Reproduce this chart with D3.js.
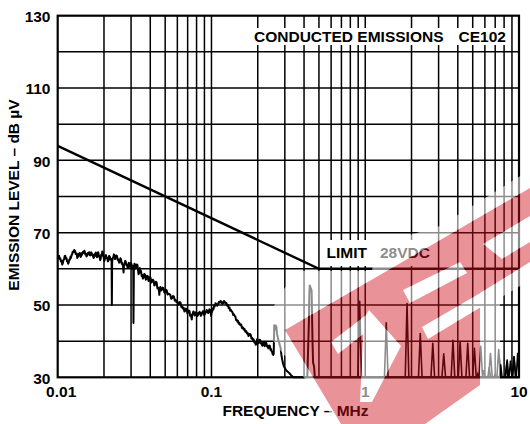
<!DOCTYPE html>
<html><head><meta charset="utf-8">
<script src="https://cdn.jsdelivr.net/npm/d3@7"></script>
<style>
html,body{margin:0;padding:0;background:#fff;}
svg{display:block;}
text{font-family:"Liberation Sans",Arial,Helvetica,sans-serif;font-weight:bold;}
</style></head><body>
<svg id="chart" width="530" height="424"></svg>
<script>
// ---- data ----
const yTickValues = [30, 50, 70, 90, 110, 130];
const xTickValues = [0.01, 0.1, 1, 10];
const xTickLabels = ["0.01", "0.1", "1", "10"];

// CE102 limit (28 VDC): frequency in MHz, level in dBµV
const limitFreq  = [0.01, 0.5, 10];
const limitLevel = [94, 60, 60];

// measured broadband emission, [MHz, dBµV]
const emission = [
  [0.0100,62.8],[0.0101,63.4],[0.0102,63.6],[0.0103,62.7],[0.0104,62.9],[0.0105,62.0],[0.0106,62.3],
  [0.0107,61.2],[0.0108,61.6],[0.0109,62.4],[0.0110,62.6],[0.0111,63.5],[0.0112,63.6],[0.0113,62.8],
  [0.0114,63.0],[0.0115,62.1],[0.0116,62.0],[0.0117,61.4],[0.0118,61.8],[0.0119,62.6],[0.0120,62.5],
  [0.0121,63.3],[0.0122,63.0],[0.0123,63.8],[0.0124,63.9],[0.0125,64.7],[0.0127,64.6],[0.0128,65.2],
  [0.0130,64.9],[0.0131,64.1],[0.0133,64.2],[0.0134,63.0],[0.0135,63.2],[0.0136,64.0],[0.0137,63.6],
  [0.0139,64.4],[0.0140,64.1],[0.0141,63.3],[0.0142,63.5],[0.0143,64.3],[0.0144,63.9],[0.0146,64.7],
  [0.0147,64.4],[0.0149,65.0],[0.0150,64.8],[0.0151,64.0],[0.0152,64.2],[0.0154,63.4],[0.0155,63.6],
  [0.0157,64.4],[0.0158,64.0],[0.0160,64.6],[0.0161,63.9],[0.0163,63.7],[0.0165,64.6],[0.0166,64.4],
  [0.0168,63.7],[0.0169,64.0],[0.0171,63.0],[0.0172,63.1],[0.0174,64.0],[0.0175,63.6],[0.0177,64.5],
  [0.0178,64.2],[0.0180,63.2],[0.0181,63.4],[0.0183,64.6],[0.0184,64.4],[0.0186,63.3],[0.0187,63.5],
  [0.0189,62.4],[0.0190,62.6],[0.0192,63.9],[0.0193,63.7],[0.0195,64.8],[0.0196,64.6],[0.0198,63.4],
  [0.0199,63.2],[0.0201,62.2],[0.0202,62.4],[0.0204,63.5],[0.0206,63.8],[0.0208,62.9],[0.0210,63.1],
  [0.0212,62.1],[0.0214,62.3],[0.0216,63.6],[0.0218,63.4],[0.0220,62.6],[0.0222,62.8],[0.0224,62.5],
  [0.0225,50.0],[0.0226,62.0],[0.0228,62.9],[0.0230,63.2],[0.0232,64.0],[0.0234,63.8],[0.0236,62.7],
  [0.0238,62.9],[0.0241,63.7],[0.0243,63.5],[0.0246,62.4],[0.0248,62.6],[0.0251,61.7],[0.0253,61.9],
  [0.0256,62.9],[0.0258,62.7],[0.0261,61.4],[0.0263,61.6],[0.0266,60.8],[0.0268,59.0],[0.0270,61.0],
  [0.0272,61.4],[0.0275,62.2],[0.0277,62.0],[0.0280,61.0],[0.0282,61.2],[0.0285,60.2],[0.0287,60.4],
  [0.0290,61.7],[0.0292,61.5],[0.0295,60.5],[0.0297,60.7],[0.0300,61.6],[0.0302,61.3],[0.0305,60.0],
  [0.0307,60.2],[0.0310,60.8],[0.0311,45.0],[0.0313,60.5],[0.0316,61.4],[0.0318,61.2],[0.0321,60.1],
  [0.0324,60.3],[0.0327,61.2],[0.0330,61.0],[0.0333,59.6],[0.0336,58.5],[0.0339,60.0],[0.0342,60.2],
  [0.0345,59.0],[0.0348,59.4],[0.0352,58.0],[0.0355,58.3],[0.0358,57.3],[0.0362,57.6],[0.0366,58.6],
  [0.0370,58.4],[0.0374,57.0],[0.0378,57.2],[0.0382,58.1],[0.0386,57.9],[0.0390,56.6],[0.0394,56.8],
  [0.0398,57.7],[0.0402,57.5],[0.0406,56.2],[0.0410,56.4],[0.0415,57.0],[0.0420,56.8],[0.0425,55.4],
  [0.0430,55.6],[0.0435,56.4],[0.0440,56.2],[0.0445,54.6],[0.0450,54.8],[0.0455,54.0],[0.0458,52.8],
  [0.0462,54.6],[0.0465,55.0],[0.0470,54.0],[0.0475,54.2],[0.0481,54.8],[0.0488,54.6],[0.0494,53.4],
  [0.0500,53.6],[0.0506,54.2],[0.0512,54.0],[0.0518,52.9],[0.0525,53.1],[0.0532,53.0],[0.0540,52.8],
  [0.0547,51.7],[0.0555,51.9],[0.0562,52.5],[0.0570,52.3],[0.0577,51.2],[0.0585,51.4],[0.0592,50.8],
  [0.0600,51.0],[0.0607,50.1],[0.0615,50.3],[0.0622,50.8],[0.0630,50.6],[0.0637,49.4],[0.0645,49.6],
  [0.0652,49.0],[0.0660,49.2],[0.0667,48.2],[0.0675,48.4],[0.0682,49.0],[0.0690,48.8],[0.0697,47.7],
  [0.0705,47.9],[0.0712,48.5],[0.0720,48.3],[0.0727,47.0],[0.0735,47.2],[0.0740,46.6],[0.0745,46.0],
  [0.0750,47.4],[0.0755,47.6],[0.0762,48.2],[0.0770,48.0],[0.0777,47.1],[0.0785,47.3],[0.0792,48.0],
  [0.0800,47.8],[0.0807,46.9],[0.0815,47.1],[0.0822,47.8],[0.0830,47.6],[0.0837,48.1],[0.0845,47.9],
  [0.0852,47.0],[0.0860,47.2],[0.0867,47.9],[0.0875,47.7],[0.0882,48.3],[0.0890,48.1],[0.0897,47.2],
  [0.0905,47.4],[0.0912,48.1],[0.0920,47.9],[0.0930,48.6],[0.0940,48.4],[0.0950,47.8],[0.0960,48.0],
  [0.0970,48.8],[0.0980,48.6],[0.0990,47.6],[0.0995,47.0],[0.1000,47.8],[0.1010,48.2],[0.1020,49.0],
  [0.1030,48.8],[0.1040,49.8],[0.1050,49.6],[0.1062,50.5],[0.1075,50.3],[0.1087,49.8],[0.1100,50.0],
  [0.1115,50.8],[0.1130,50.6],[0.1145,51.1],[0.1160,50.9],[0.1175,50.3],[0.1190,50.5],[0.1205,51.1],
  [0.1220,50.9],[0.1235,50.4],[0.1250,50.6],[0.1265,49.8],[0.1280,50.0],[0.1295,49.1],[0.1310,49.3],
  [0.1325,48.4],[0.1340,48.6],[0.1355,48.2],[0.1370,48.0],[0.1385,47.2],[0.1400,47.4],[0.1415,47.0],
  [0.1430,46.8],[0.1445,45.8],[0.1460,46.0],[0.1475,45.4],[0.1490,45.6],[0.1505,44.8],[0.1520,45.0],
  [0.1540,44.4],[0.1560,44.6],[0.1580,43.6],[0.1600,43.8],[0.1620,43.2],[0.1640,43.4],[0.1660,42.6],
  [0.1680,42.8],[0.1700,42.1],[0.1720,42.3],[0.1740,41.4],[0.1760,41.6],[0.1780,42.0],[0.1800,41.8],
  [0.1820,40.7],[0.1840,40.9],[0.1860,40.3],[0.1880,40.5],[0.1900,39.6],[0.1920,39.8],[0.1940,39.0],
  [0.1960,39.2],[0.1980,40.5],[0.2000,40.3],[0.2020,39.4],[0.2040,39.6],[0.2060,40.4],[0.2080,40.2],
  [0.2100,39.3],[0.2120,39.5],[0.2140,38.7],[0.2160,38.9],[0.2180,39.8],[0.2200,39.6],[0.2220,38.6],
  [0.2240,38.8],[0.2260,39.6],[0.2280,39.4],[0.2300,38.5],[0.2320,38.7],[0.2340,38.0],[0.2360,38.2],
  [0.2380,38.8],[0.2400,38.6],[0.2420,37.6],[0.2440,37.8],[0.2460,37.2],[0.2480,37.0],[0.2500,36.4],
  [0.2520,36.2],[0.2540,36.5],[0.2560,44.4],[0.2580,43.2],[0.2600,43.5],[0.2620,44.3],[0.2640,44.0],
  [0.2670,42.0],[0.2700,41.0],[0.2730,40.2],[0.2760,39.5],[0.2790,38.7],[0.2820,38.0],[0.2850,36.2],
  [0.2880,35.0],[0.2920,33.8],[0.2960,33.0],[0.3000,32.6],[0.3050,32.0],[0.3120,31.6],[0.3200,31.2],
  [0.3260,30.8],[0.3320,30.4],[0.3420,30.0],[0.4200,30.0],[0.4300,45.0],[0.4330,53.0],[0.4360,55.4],
  [0.4390,55.0],[0.4420,54.6],[0.4450,54.4],[0.4480,54.0],[0.4510,47.0],[0.4540,40.0],[0.4580,34.0],
  [0.4650,33.0],[0.4700,30.0],[10.0,30.0]
];

// narrowband harmonics above 0.5 MHz
const peakFreq  = [0.92, 1.37, 1.87, 2.28, 2.75, 3.24, 3.72, 4.14, 4.64, 5.13, 5.64, 6.52, 7.38, 8.37, 9.27];
const peakLevel = [51.0, 45.1, 50.4, 42.1, 39.4, 36.5, 40.2, 39.8, 39.4, 38.0, 38.6, 36.6, 37.7, 34.8, 35.7];
// low-level spurs near the top of the band
const spurFreq  = [5.4, 5.9, 6.4, 7.0, 7.6, 8.3, 8.8, 9.3, 9.8];
const spurLevel = [31.0, 32.0, 32.8, 30.8, 33.6, 33.3, 34.6, 35.8, 36.8];

// ---- scales ----
const svg = d3.select("#chart");
const x = d3.scaleLog().domain([0.01, 10]).range([57.7, 519]);
const y = d3.scaleLinear().domain([30, 130]).range([377.3, 15.7]);

// ---- grid ----
const grid = svg.append("g").attr("stroke", "#000").attr("stroke-width", 1.5);
grid.selectAll("line.v").data(x.ticks().filter(d => d > 0.01 * 1.001 && d < 10 * 0.999))
  .join("line").attr("class", "v")
  .attr("x1", d => x(d)).attr("x2", d => x(d)).attr("y1", y(30)).attr("y2", y(130));
grid.selectAll("line.h").data(y.ticks(10).filter(d => d > 30 && d < 130))
  .join("line").attr("class", "h")
  .attr("x1", x(0.01)).attr("x2", x(10)).attr("y1", d => y(d)).attr("y2", d => y(d));

// ---- limit line ----
const lineGen = d3.line().x(d => x(d[0])).y(d => y(d[1]));
svg.append("path")
  .datum(limitFreq.map((f, i) => [f, limitLevel[i]]))
  .attr("d", lineGen).attr("fill", "none").attr("stroke", "#000").attr("stroke-width", 2.4);

// ---- emission trace ----
svg.append("path").datum(emission).attr("d", lineGen)
  .attr("fill", "none").attr("stroke", "#000").attr("stroke-width", 2)
  .attr("stroke-linejoin", "round");

const spike = (f, v, hw) => {
  const cx = x(f), fy = y(30), ty = y(v);
  return `M${cx - hw},${fy}L${cx},${ty}L${cx + hw},${fy}`;
};
svg.append("g").selectAll("path").data(peakFreq.map((f, i) => [f, peakLevel[i]]))
  .join("path").attr("d", d => spike(d[0], d[1], 1.8))
  .attr("fill", "none").attr("stroke", "#000").attr("stroke-width", 1.6).attr("stroke-linejoin", "round");
svg.append("g").selectAll("path").data(spurFreq.map((f, i) => [f, spurLevel[i]]))
  .join("path").attr("d", d => spike(d[0], d[1], 1.4))
  .attr("fill", "none").attr("stroke", "#000").attr("stroke-width", 1.5);

// ---- frame ----
svg.append("rect").attr("x", x(0.01)).attr("y", y(130))
  .attr("width", x(10) - x(0.01)).attr("height", y(30) - y(130))
  .attr("fill", "none").attr("stroke", "#000").attr("stroke-width", 2.2);

// ---- labels with white backing ----
function boxedText(tx, ty, str, anchor, bx, by, bw, bh) {
  svg.append("rect").attr("x", bx).attr("y", by).attr("width", bw).attr("height", bh).attr("fill", "#fff");
  svg.append("text").attr("x", tx).attr("y", ty).attr("text-anchor", anchor)
    .attr("font-size", 15.5).attr("fill", "#000").text(str);
}
boxedText(443.5, 42.3, "CONDUCTED EMISSIONS", "end", 246, 28, 263, 17);
svg.append("text").attr("x", 458.5).attr("y", 42.3).attr("font-size", 15.5).text("CE102");
boxedText(326.5, 258.3, "LIMIT", "start", 322, 240, 47, 26);
boxedText(380, 258.3, "28VDC", "start", 376, 240, 60, 26);

// ---- axes text ----
svg.append("g").selectAll("text").data(yTickValues).join("text")
  .attr("x", 50.5).attr("y", d => y(d) + 6.3).attr("text-anchor", "end")
  .attr("font-size", 15.5).text(d => d);
svg.append("g").selectAll("text").data(xTickValues).join("text")
  .attr("x", (d, i) => x(d) + (i === 0 ? 3.5 : 0)).attr("y", 397)
  .attr("text-anchor", "middle").attr("font-size", 15.5).text((d, i) => xTickLabels[i]);
svg.append("text").attr("x", 295.5).attr("y", 416).attr("text-anchor", "middle")
  .attr("font-size", 15.5).text("FREQUENCY – MHz");
svg.append("text").attr("transform", "translate(18.5,195) rotate(-90)")
  .attr("text-anchor", "middle").attr("font-size", 15.5).text("EMISSION LEVEL – dB µV");

// ---- red stamp across the lower right ----
const stampOutline = [[285,330],[530,188],[530,262],[480,293],[480,385],[425,424],[341,424]];
const stampHalo = [[263,325],[283,290],[300,271],[372,271],[376,245],[440,226],[530,170],[530,280],
                   [500,298],[500,392],[452,424],[338,424],[300,372],[278,348]];
const stampHoles = [
  [[331,342],[370,312],[376,324],[338,354]],
  [[364,318],[369,310],[401,346],[372,402],[360,402]],
  [[403,290],[460,262],[467,273],[410,303]],
  [[422,327],[482,292],[486,304],[428,339]],
  [[483,244],[530,216],[530,242],[502,259]]
];
const pts = p => p.map(d => d.join(",")).join(" ");
const defs = svg.append("defs");
const redMask = defs.append("mask").attr("id", "redMask").attr("maskUnits", "userSpaceOnUse")
  .attr("x", 0).attr("y", 0).attr("width", 530).attr("height", 424);
redMask.append("polygon").attr("points", pts(stampOutline)).attr("fill", "#fff");
redMask.selectAll("polygon.h").data(stampHoles).join("polygon").attr("class", "h")
  .attr("points", pts).attr("fill", "#000");
const haloMask = defs.append("mask").attr("id", "haloMask").attr("maskUnits", "userSpaceOnUse")
  .attr("x", 0).attr("y", 0).attr("width", 530).attr("height", 424);
haloMask.append("polygon").attr("points", pts(stampHalo)).attr("fill", "#fff");
haloMask.append("polygon").attr("points", pts(stampOutline)).attr("fill", "#000");
haloMask.selectAll("polygon.h").data(stampHoles).join("polygon").attr("class", "h")
  .attr("points", pts).attr("fill", "#fff");
svg.append("rect").attr("x", 0).attr("y", 0).attr("width", 530).attr("height", 424)
  .attr("fill", "#fff").attr("fill-opacity", 0.55).attr("mask", "url(#haloMask)");
svg.append("rect").attr("x", 0).attr("y", 0).attr("width", 530).attr("height", 424)
  .attr("fill", "#cf0d1a").attr("fill-opacity", 0.45).attr("mask", "url(#redMask)");
</script></body></html>
